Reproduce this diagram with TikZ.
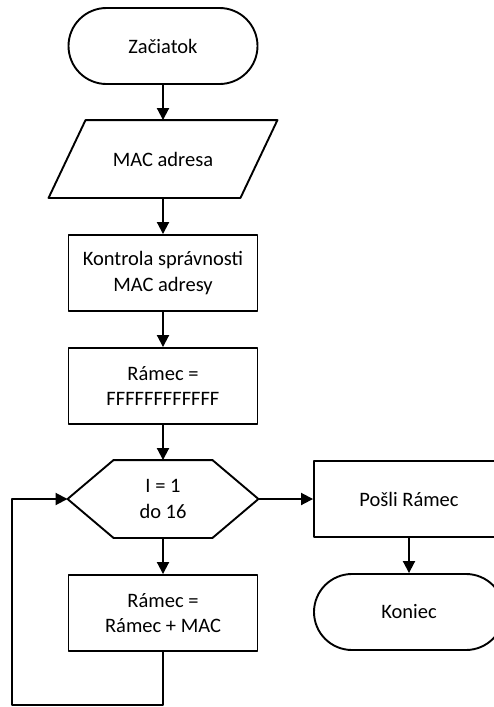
\documentclass[tikz,border=0pt]{standalone}
\usepackage{fontspec}
\setmainfont{Carlito}
\usetikzlibrary{arrows.meta}

\tikzset{
  krok/.style={draw, rectangle, minimum width=189pt, minimum height=76pt, align=center},
  koncovy/.style={krok, rounded corners=38pt},
  tvar/.style={rectangle, minimum height=76pt, align=center},
}

\begin{document}
\begin{tikzpicture}[line cap=round,line join=round,>={Triangle[length=12pt,width=12pt]},x=1pt,y=-1pt,
  line width=1.9pt, font=\fontsize{20.5}{25.5}\selectfont]
			\useasboundingbox (0,0) rectangle (494,707);
			% zaciatok a vstup
			\node[koncovy] (zac) at (163,46) {Začiatok};
			\node[tvar, minimum width=227pt] (mac) at (163,159) {MAC adresa};
			\draw ([xshift=37pt]mac.north west) -- (mac.north east) -- ([xshift=-37pt]mac.south east) -- (mac.south west) -- cycle;
			% spracovanie
			\node[krok] (kontrola) at (163,273) {Kontrola správnosti\\MAC adresy};
			\node[krok] (ramec) at (163,386) {Rámec =\\FFFFFFFFFFFF};
			% cyklus
			\node[tvar, minimum width=189pt] (cyklus) at (163,499) {I = 1\\do 16};
			\draw (cyklus.west) -- ([xshift=46pt]cyklus.north west) -- ([xshift=-46pt]cyklus.north east) -- (cyklus.east)
				-- ([xshift=-46pt]cyklus.south east) -- ([xshift=46pt]cyklus.south west) -- cycle;
			\node[krok] (pridaj) at (163,613) {Rámec =\\Rámec + MAC};
			% koniec
			\node[krok, minimum width=190pt] (posli) at (409,499) {Pošli Rámec};
			\node[koncovy, minimum width=190pt] (kon) at (409,612) {Koniec};
			%sipky
			\draw[->] (zac) -- (mac);
			\draw[->] (mac) -- (kontrola);
			\draw[->] (kontrola) -- (ramec);
			\draw[->] (ramec) -- (cyklus);
			\draw[->] (cyklus) -- (pridaj);
			\draw[->] (cyklus) -- (posli);
			\draw[->] (posli) -- (kon);
			\coordinate (roh) at (12,705);
			\draw[->] (pridaj.south) |- (roh) |- (cyklus.west);
	\end{tikzpicture}
\end{document}
